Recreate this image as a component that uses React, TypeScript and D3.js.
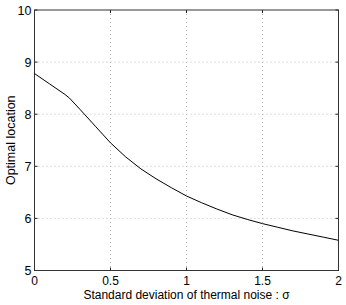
import React from "react";
import * as d3 from "d3";

const sigma = [0, 0.1, 0.2, 0.23, 0.3, 0.4, 0.5, 0.6, 0.7, 0.8, 0.9, 1.0, 1.1, 1.2, 1.3, 1.4, 1.5, 1.6, 1.7, 1.8, 1.9, 2.0];
const location = [8.78, 8.58, 8.38, 8.31, 8.09, 7.77, 7.45, 7.18, 6.95, 6.76, 6.59, 6.43, 6.3, 6.18, 6.07, 5.98, 5.9, 5.83, 5.76, 5.7, 5.64, 5.58];
const xTicks = [0, 0.5, 1, 1.5, 2];
const yTicks = [5, 6, 7, 8, 9, 10];

export default function App() {
  const width = 346;
  const height = 305;
  const margin = { top: 10, right: 7.5, bottom: 34.5, left: 34.5 };
  const innerW = width - margin.left - margin.right;
  const innerH = height - margin.top - margin.bottom;

  const x = d3.scaleLinear().domain([0, 2]).range([0, innerW]);
  const y = d3.scaleLinear().domain([5, 10]).range([innerH, 0]);

  const line = d3
    .line<number>()
    .x((_, i) => x(sigma[i]))
    .y((d) => y(d));

  const font = "'Liberation Sans', Arial, sans-serif";

  return (
    <svg
      width={width}
      height={height}
      style={{ position: "absolute", left: 0, top: 0, background: "#fff" }}
      fontFamily={font}
    >
      <g transform={`translate(${margin.left},${margin.top})`}>
        {xTicks.slice(1, -1).map((t) => (
          <line key={"gx" + t} x1={x(t)} x2={x(t)} y1={0} y2={innerH} stroke="#bbb" strokeDasharray="1,3" />
        ))}
        {yTicks.slice(1, -1).map((t) => (
          <line key={"gy" + t} x1={0} x2={innerW} y1={y(t)} y2={y(t)} stroke="#bbb" strokeDasharray="1,3" />
        ))}
        {xTicks.map((t) => (
          <g key={"tx" + t}>
            <line x1={x(t)} x2={x(t)} y1={innerH} y2={innerH - 3} stroke="#222" />
            <line x1={x(t)} x2={x(t)} y1={0} y2={3} stroke="#222" />
            <text x={x(t)} y={innerH + 14} textAnchor="middle" fontSize={12} fill="#000">
              {t}
            </text>
          </g>
        ))}
        {yTicks.map((t) => (
          <g key={"ty" + t}>
            <line x1={0} x2={3} y1={y(t)} y2={y(t)} stroke="#222" />
            <line x1={innerW} x2={innerW - 3} y1={y(t)} y2={y(t)} stroke="#222" />
            <text x={-3} y={y(t) + 4.5} textAnchor="end" fontSize={12.5} fill="#000">
              {t}
            </text>
          </g>
        ))}
        <rect x={0} y={0} width={innerW} height={innerH} fill="none" stroke="#333" strokeWidth={1} />
        <path d={line(location) || ""} fill="none" stroke="#000" strokeWidth={1} />
        <text x={innerW / 2} y={innerH + 28} textAnchor="middle" fontSize={12} fill="#000">
          Standard deviation of thermal noise : σ
        </text>
        <text
          transform={`translate(${-margin.left + 15},${innerH / 2}) rotate(-90)`}
          textAnchor="middle"
          fontSize={12.5}
          fill="#000"
        >
          Optimal location
        </text>
      </g>
    </svg>
  );
}
